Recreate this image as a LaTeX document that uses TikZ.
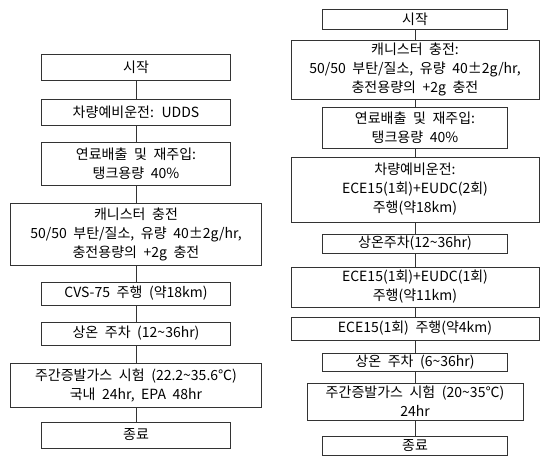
\documentclass[tikz,border=0pt]{standalone}
\usepackage{fontspec}
\setmainfont[WordSpace=2.1]{Noto Sans CJK KR}
\begin{document}
\begin{tikzpicture}[x=1pt,y=-1pt,
  box/.style={draw=black!80, line width=0.9pt, inner sep=0pt, align=center,
    font=\fontsize{14}{19}\selectfont},
  nw/.style={box, minimum width=189pt},
  ww/.style={box, minimum width=251pt},
  rn/.style={box, minimum width=185pt},
  rw/.style={box, minimum width=248pt},
  rm/.style={box, minimum width=216pt},
  link/.style={draw=black!80, line width=0.9pt}]
\useasboundingbox (0,0) rectangle (541,460);
% left column
\node[nw, minimum height=26pt] (L1) at (136,67) {시작};
\node[nw, minimum height=26pt] (L2) at (136,112) {차량예비운전: UDDS};
\node[nw, minimum height=43pt] (L3) at (136,163.5) {연료배출 및 재주입:\\탱크용량 40\%};
\node[ww, minimum height=62pt] (L4) at (136,234) {캐니스터 충전\\50/50 부탄/질소, 유량 40±2g/hr,\\충전용량의 +2g 충전};
\node[nw, minimum height=23pt] (L5) at (136,293.5) {CVS-75 주행 (약18km)};
\node[nw, minimum height=23pt] (L6) at (136,333.5) {상온 주차 (12\textasciitilde36hr)};
\node[ww, minimum height=44pt] (L7) at (136,385) {주간증발가스 시험 (22.2\textasciitilde35.6℃)\\국내 24hr, EPA 48hr};
\node[nw, minimum height=26pt] (L8) at (136,435) {종료};
\foreach \a/\b in {L1/L2,L2/L3,L3/L4,L4/L5,L5/L6,L6/L7,L7/L8}
  \draw[link] (\a) -- (\b);
% right column
\node[rn, minimum height=20pt] (R1) at (415,19) {시작};
\node[rw, minimum height=59pt] (R2) at (415,69.5) {캐니스터 충전:\\50/50 부탄/질소, 유량 40±2g/hr,\\충전용량의 +2g 충전};
\node[rn, minimum height=41pt] (R3) at (415,127.5) {연료배출 및 재주입:\\탱크용량 40\%};
\node[rw, minimum height=65pt] (R4) at (415,189.5) {차량예비운전:\\ECE15(1회)+EUDC(2회)\\주행(약18km)};
\node[rn, minimum height=19pt] (R5) at (415,243.5) {상온주차(12\textasciitilde36hr)};
\node[rw, minimum height=40pt] (R6) at (415,287) {ECE15(1회)+EUDC(1회)\\주행(약11km)};
\node[rw, minimum height=23pt] (R7) at (415,328.5) {ECE15(1회) 주행(약4km)};
\node[rn, minimum height=18pt] (R8) at (415,362) {상온 주차 (6\textasciitilde36hr)};
\node[rm, minimum height=37pt] (R9) at (415,401.5) {주간증발가스 시험 (20\textasciitilde35℃)\\24hr};
\node[rn, minimum height=19pt] (R10) at (415,445.5) {종료};
\foreach \a/\b in {R1/R2,R2/R3,R3/R4,R4/R5,R5/R6,R6/R7,R7/R8,R8/R9,R9/R10}
  \draw[link] (\a) -- (\b);
\end{tikzpicture}
\end{document}
